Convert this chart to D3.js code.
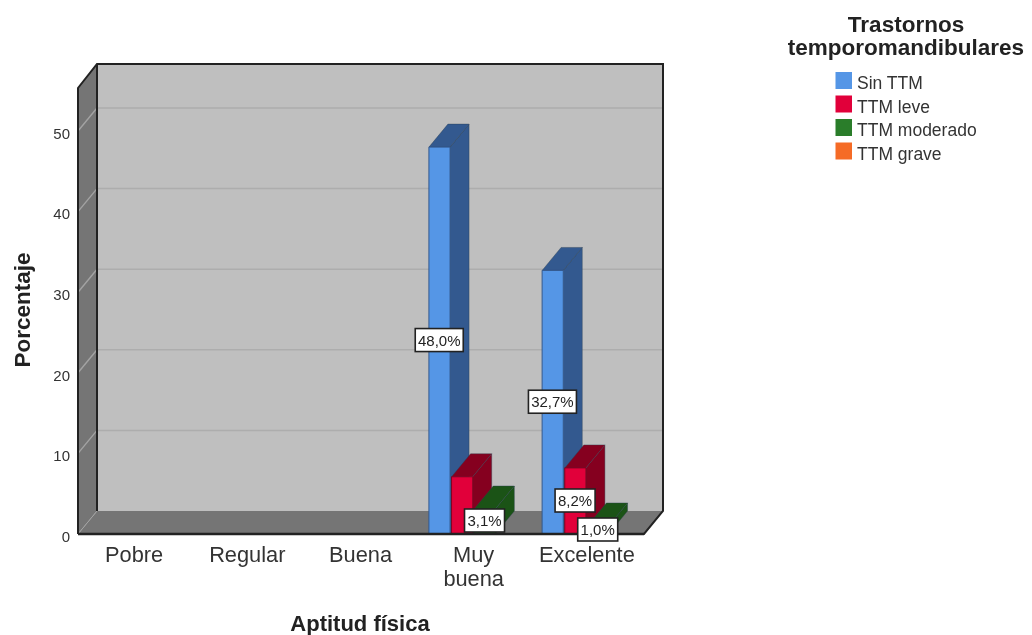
<!DOCTYPE html>
<html><head><meta charset="utf-8">
<script src="https://cdn.jsdelivr.net/npm/d3@7/dist/d3.min.js"></script>
<style>html,body{margin:0;padding:0;background:#fff}svg{display:block;filter:blur(0.45px)}text{font-family:"Liberation Sans",Arial,sans-serif;fill:#222}</style>
</head><body><svg id="c" width="1032" height="635"></svg>
<script>
const categories = ["Pobre","Regular","Buena","Muy buena","Excelente"];
const seriesNames = ["Sin TTM","TTM leve","TTM moderado","TTM grave"];
const sinTTM = [null,null,null,48.0,32.7];
const leve = [null,null,null,7.1,8.2];
const moderado = [null,null,null,3.1,1.0];
const grave = [null,null,null,null,null];
const valueLabels = [
  {s:0,c:3,text:"48,0%"},{s:0,c:4,text:"32,7%"},
  {s:2,c:3,text:"3,1%"},{s:1,c:4,text:"8,2%"},{s:2,c:4,text:"1,0%"}];
const yTicks = [0,10,20,30,40,50];
const front = ["#5596e6","#e1003a","#2a7d2a","#f56b26"];
const dark  = ["#33598f","#85001f","#1b5316","#93401a"];
const allSeries = [sinTTM,leve,moderado,grave];

const svg = d3.select("#c");
const dx = 19, dy = 23, left = 78, right = 644, bottom = 534, top0 = 88;
const y = d3.scaleLinear().domain([0,50]).range([bottom,131]);
const x = d3.scaleBand().domain(categories).range([left,right]);
const xs = d3.scaleBand().domain(d3.range(4)).range([0,x.bandwidth()]).paddingOuter(0.5).paddingInner(0);
const poly = (pts,fill,stroke,sw)=>svg.append("polygon").attr("points",pts.map(p=>p.join(",")).join(" ")).attr("fill",fill).attr("stroke",stroke||"none").attr("stroke-width",sw||0);

// walls
poly([[left+dx,top0-dy-1],[right+dx,top0-dy-1],[right+dx,bottom-dy],[left+dx,bottom-dy]],"#bfbfbf");
poly([[left,top0],[left+dx,top0-dy-1],[left+dx,bottom-dy],[left,bottom]],"#757575");
poly([[left,bottom],[left+dx,bottom-dy],[right+dx,bottom-dy],[right,bottom]],"#757575");
// gridlines
yTicks.filter(t=>t>0).forEach(t=>{
  svg.append("line").attr("x1",left+dx).attr("x2",right+dx).attr("y1",y(t)-dy).attr("y2",y(t)-dy).attr("stroke","#adadad").attr("stroke-width",1.5);
  svg.append("line").attr("x1",left).attr("x2",left+dx).attr("y1",y(t)).attr("y2",y(t)-dy).attr("stroke","#a3a3a3").attr("stroke-width",1.4);
});
svg.append("line").attr("x1",left).attr("x2",left+dx).attr("y1",bottom).attr("y2",bottom-dy).attr("stroke","#a3a3a3").attr("stroke-width",1);
// frame
const frame = (pts)=>svg.append("path").attr("d",d3.line()(pts)).attr("fill","none").attr("stroke","#222").attr("stroke-width",2);
frame([[left,bottom],[left,top0],[left+dx,top0-dy-1],[right+dx,top0-dy-1],[right+dx,bottom-dy],[right,bottom],[left,bottom]]);
frame([[left+dx,top0-dy-1],[left+dx,bottom-dy]]);

// bars
allSeries.forEach((vals,s)=>{
  vals.forEach((v,c)=>{
    if(v==null) return;
    const x0 = x(categories[c])+xs(s), x1 = x0+xs.bandwidth()-1.5, yt = y(v);
    poly([[x1,yt],[x1+dx,yt-dy],[x1+dx,bottom-dy],[x1,bottom]],dark[s],"#2c3e50",0.4);
    poly([[x0,yt],[x0+dx,yt-dy],[x1+dx,yt-dy],[x1,yt]],dark[s],"#2c3e50",0.4);
    poly([[x0,yt],[x1,yt],[x1,bottom],[x0,bottom]],front[s],dark[s],1);
  });
});
svg.append("line").attr("x1",left).attr("x2",right).attr("y1",bottom).attr("y2",bottom).attr("stroke","#222").attr("stroke-width",2.5);

// value labels
valueLabels.forEach(d=>{
  const v = allSeries[d.s][d.c];
  const cx = x(categories[d.c])+xs(d.s)+xs.bandwidth()/2-1;
  const w = d.text.length>4?48:40;
  const ly = d.s===0 ? y(v/2) : d.s===1 ? 501 : (d.c===3?521:530);
  const g = svg.append("g");
  g.append("rect").attr("x",cx-w/2).attr("y",ly-12).attr("width",w).attr("height",23).attr("fill","#fff").attr("stroke","#222").attr("stroke-width",1.6);
  g.append("text").attr("x",cx).attr("y",ly+5).attr("text-anchor","middle").attr("font-size",15).text(d.text);
});

// y tick labels
const yAxis = d3.axisLeft(y).tickValues(yTicks).tickSize(0).tickPadding(8);
const ya = svg.append("g").attr("transform","translate("+left+",2.5)").call(yAxis);
ya.select(".domain").remove();
ya.selectAll("text").attr("font-size",15).style("font-family",'"Liberation Sans",Arial,sans-serif').style("fill","#333");
// x labels
const xLines = {"Muy buena":["Muy","buena"]};
categories.forEach(c=>{
  const lines = xLines[c]||[c];
  const cx = x(c)+x.bandwidth()/2-0.5;
  const t = svg.append("text").attr("text-anchor","middle").attr("font-size",21.8).style("fill","#333");
  lines.forEach((l,i)=>t.append("tspan").attr("x",cx).attr("y",562+i*24).text(l));
});
// axis titles
svg.append("text").attr("x",360).attr("y",631).attr("text-anchor","middle").attr("font-size",22).attr("font-weight","bold").text("Aptitud física");
svg.append("text").attr("transform","translate(30,310) rotate(-90)").attr("text-anchor","middle").attr("font-size",22.5).attr("font-weight","bold").text("Porcentaje");
// legend
svg.append("text").attr("x",906).attr("y",32).attr("text-anchor","middle").attr("font-size",22.5).attr("font-weight","bold").text("Trastornos");
svg.append("text").attr("x",906).attr("y",55).attr("text-anchor","middle").attr("font-size",22.5).attr("font-weight","bold").text("temporomandibulares");
seriesNames.forEach((n,i)=>{
  const ly = 72+i*23.5;
  svg.append("rect").attr("x",835.5).attr("y",ly).attr("width",16.5).attr("height",17).attr("fill",front[i]);
  svg.append("text").attr("x",857).attr("y",ly+17).attr("font-size",17.5).style("fill","#333").text(n);
});
</script></body></html>
